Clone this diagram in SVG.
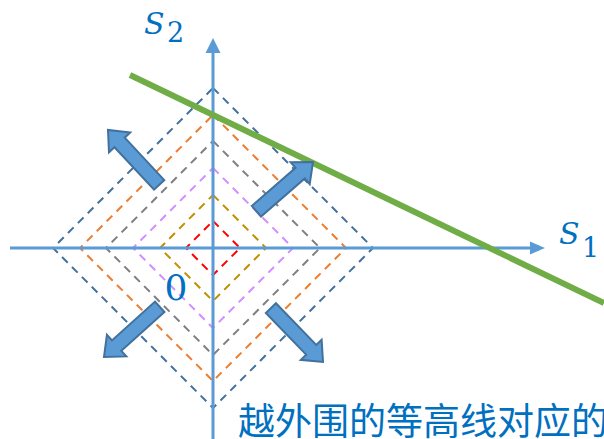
<svg xmlns="http://www.w3.org/2000/svg" width="604" height="439" viewBox="0 0 604 439">
<style>
.d{fill:none;stroke-width:2;stroke-dasharray:8 6}
.ax{stroke:#5B9BD5;stroke-width:3;fill:none}
.ah{fill:#5B9BD5}
.blk{fill:#5B9BD5;stroke:#41719C;stroke-width:2;stroke-linejoin:miter}
.lbl{fill:#0070C0;font-family:"DejaVu Serif","Liberation Serif",serif}
</style>
<defs>
<path id="ba" d="M-75,-7 L-17,-7 L-17,-14.5 L0,0 L-17,14.5 L-17,7 L-75,7 Z"/>
</defs>
<g id="contours">
<polygon class="d" stroke="#FF0000" points="213,221 240,248 213,275 186,248"/>
<polygon class="d" stroke="#BF9000" points="213,195 266,248 213,301 160,248"/>
<polygon class="d" stroke="#D28EFF" points="213,168 293,248 213,328 133,248"/>
<polygon class="d" stroke="#7F7F7F" points="213,141 320,248 213,355 106,248"/>
<polygon class="d" stroke="#ED7D31" points="213,115 346,248 213,381 80,248"/>
<polygon class="d" stroke="#41719C" points="213,88 373,248 213,408 53,248"/>
</g>
<g id="axes">
<line class="ax" x1="10" y1="248" x2="532" y2="248"/>
<polygon class="ah" points="530,241.5 545,248 530,254.5"/>
<line class="ax" x1="213" y1="439" x2="213" y2="51"/>
<polygon class="ah" points="205.5,53 213,38 220.5,53"/>
</g>
<g id="constraint">
<line x1="130" y1="75" x2="604" y2="303" stroke="#70AD47" stroke-width="6"/>
</g>
<g id="arrows">
<use href="#ba" class="blk" transform="translate(108,130) rotate(227)"/>
<use href="#ba" class="blk" transform="translate(313,162) rotate(-41)"/>
<use href="#ba" class="blk" transform="translate(104,357) rotate(138)"/>
<use href="#ba" class="blk" transform="translate(323,362) rotate(46)"/>
</g>
<g id="labels">
<text class="lbl" x="144" y="34" font-size="30" font-style="italic">S</text>
<text class="lbl" x="167" y="42" font-size="27">2</text>
<text class="lbl" x="559" y="244" font-size="30" font-style="italic">S</text>
<text class="lbl" x="582" y="257" font-size="27">1</text>
<text class="lbl" x="176" y="300" font-size="36" text-anchor="middle">0</text>
<text x="238" y="435" font-size="37" fill="#0070C0" font-family="'Noto Sans CJK SC','Noto Sans',sans-serif">越外围的等高线对应的</text>
</g>
</svg>
